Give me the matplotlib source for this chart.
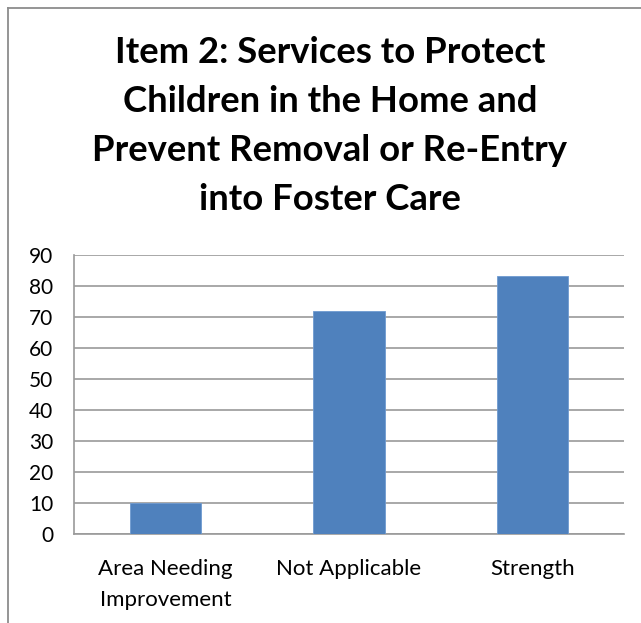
import matplotlib.pyplot as plt
from matplotlib.lines import Line2D

categories = ['Area Needing\nImprovement', 'Not Applicable', 'Strength']
values = [10, 72, 83]
y_ticks = [0, 10, 20, 30, 40, 50, 60, 70, 80, 90]
title = 'Item 2: Services to Protect\nChildren in the Home and\nPrevent Removal or Re-Entry\ninto Foster Care'

W, H = 641, 623
fig = plt.figure(figsize=(W / 100, H / 100), dpi=100)
plt.rcParams['font.family'] = ['Lato', 'DejaVu Sans']

# outer chart border (only top and left visible in the crop)
fig.add_artist(Line2D([8 / W, 1], [1 - 8 / H, 1 - 8 / H], color='#8c8c8c', lw=1.3))
fig.add_artist(Line2D([8 / W, 8 / W], [0, 1 - 8 / H], color='#8c8c8c', lw=1.3))

ax = fig.add_axes([74 / W, 1 - 534 / H, 550 / W, 279.3 / H])
x = range(len(categories))
ax.bar(x, values, width=0.39, color='#4f81bd', edgecolor='#6f9ad0', linewidth=0.6, zorder=3)

ax.set_xlim(-0.5, 2.5)
ax.set_ylim(0, 90)
ax.set_yticks(y_ticks)
ax.set_xticks(list(x))
ax.set_xticklabels(categories, fontsize=16, linespacing=1.68)
ax.tick_params(axis='y', labelsize=15, length=0, pad=15)
ax.tick_params(axis='x', length=0, pad=18)
ax.grid(axis='y', color='#9a9a9a', linewidth=1.2, zorder=0)

for s in ['top', 'right']:
    ax.spines[s].set_visible(False)
for s in ['left', 'bottom']:
    ax.spines[s].set_color('#9a9a9a')
    ax.spines[s].set_linewidth(1.2)

fig.text(330 / W, 1 - 126 / H, title, ha='center', va='center',
         fontsize=26.3, fontweight='bold', linespacing=1.6, color='#000000')

fig.savefig('out.png', dpi=100)
